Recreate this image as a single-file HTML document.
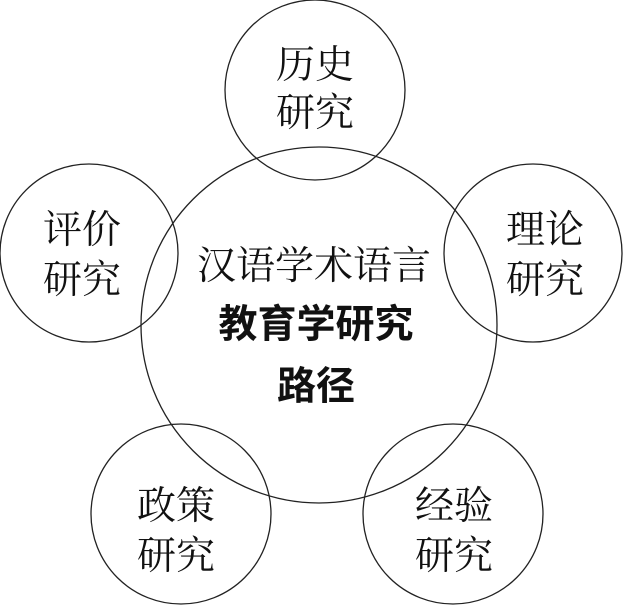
<!DOCTYPE html>
<html><head><meta charset="utf-8"><style>
html,body{margin:0;padding:0;background:#fff;}
svg{display:block}
.s{font-family:"Noto Serif CJK SC","Noto Serif CJK SC","Liberation Serif",serif;font-size:39px;fill:#111;text-anchor:middle;dominant-baseline:central}
.b{font-family:"Liberation Sans","Noto Sans CJK SC",sans-serif;font-weight:bold;font-size:39px;fill:#111;text-anchor:middle;dominant-baseline:central}
</style></head><body>
<svg width="624" height="605" viewBox="0 0 624 605">
<g fill="none" stroke="#222" stroke-width="1.3">
<circle cx="315" cy="90" r="90"/>
<circle cx="89" cy="253" r="89"/>
<circle cx="533" cy="253" r="89"/>
<circle cx="319" cy="325" r="178"/>
<circle cx="181" cy="514" r="90"/>
<circle cx="453" cy="514" r="90"/>
</g>
<text class="s" x="315" y="62">历史</text>
<text class="s" x="315" y="110">研究</text>
<text class="s" x="82" y="227">评价</text>
<text class="s" x="82" y="277">研究</text>
<text class="s" x="545" y="227">理论</text>
<text class="s" x="545" y="277">研究</text>
<text class="s" x="314" y="263">汉语学术语言</text>
<text class="b" x="316" y="325">教育学研究</text>
<text class="b" x="316" y="387">路径</text>
<text class="s" x="176" y="503">政策</text>
<text class="s" x="176" y="553">研究</text>
<text class="s" x="454" y="503">经验</text>
<text class="s" x="454" y="553">研究</text>
</svg>
</body></html>
